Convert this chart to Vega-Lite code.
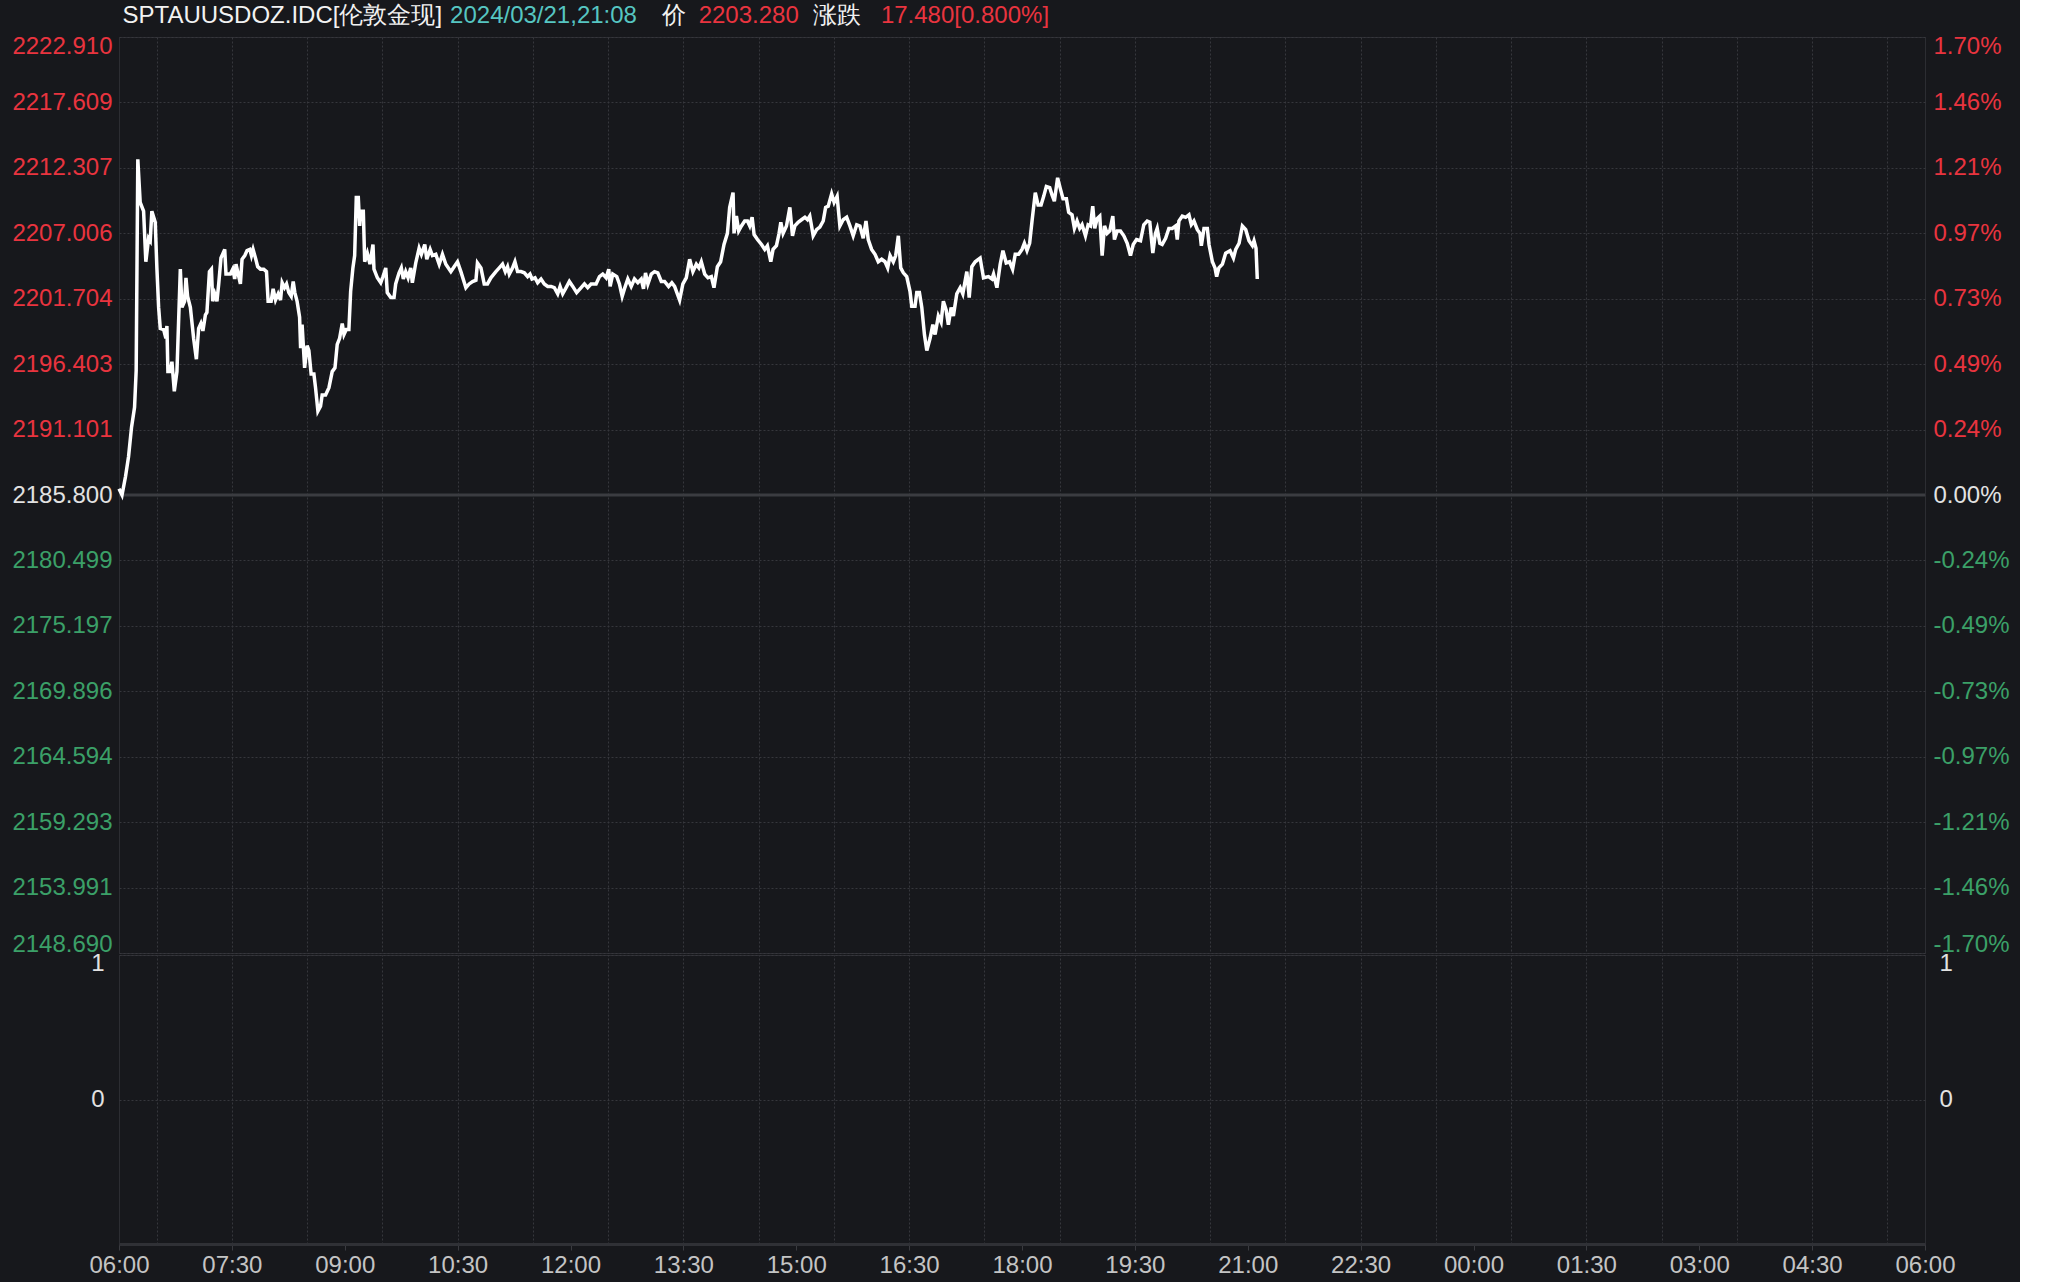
{
  "$schema": "https://vega.github.io/schema/vega-lite/v6.json",
  "background": "#17181c",
  "padding": {"left": 10, "top": 3, "right": 10, "bottom": 4},
  "config": {
    "font": "Liberation Sans",
    "view": {"stroke": "#2c2d32", "strokeWidth": 1},
    "axis": {"labelFont": "Liberation Sans", "labelFontSize": 24, "title": null}
  },
  "spacing": 2,
  "bounds": "flush",
  "datasets": {
    "gold": [
      {"minute": 0.0, "price": 2186.3}, {"minute": 2.4, "price": 2185.8}, {"minute": 5.2, "price": 2187.3}, {"minute": 7.6, "price": 2188.9}, {"minute": 10.0, "price": 2191.3}, {"minute": 12.4, "price": 2192.9}, {"minute": 13.7, "price": 2195.9}, {"minute": 15.0, "price": 2213.0}, {"minute": 16.9, "price": 2209.5}, {"minute": 19.6, "price": 2208.8}, {"minute": 21.4, "price": 2204.7}, {"minute": 23.6, "price": 2206.6}, {"minute": 24.9, "price": 2206.4}, {"minute": 26.2, "price": 2208.8}, {"minute": 28.9, "price": 2207.9}, {"minute": 30.2, "price": 2204.2}, {"minute": 31.6, "price": 2201.0}, {"minute": 32.9, "price": 2199.3}, {"minute": 35.6, "price": 2199.2}, {"minute": 37.4, "price": 2198.5}, {"minute": 38.2, "price": 2199.5}, {"minute": 39.0, "price": 2195.8}, {"minute": 40.9, "price": 2195.8}, {"minute": 42.2, "price": 2196.6}, {"minute": 44.1, "price": 2194.2}, {"minute": 46.2, "price": 2195.8}, {"minute": 48.9, "price": 2204.1}, {"minute": 50.2, "price": 2201.0}, {"minute": 52.3, "price": 2201.5}, {"minute": 53.4, "price": 2203.4}, {"minute": 54.7, "price": 2201.9}, {"minute": 56.9, "price": 2201.0}, {"minute": 59.5, "price": 2198.5}, {"minute": 61.7, "price": 2196.8}, {"minute": 63.5, "price": 2199.3}, {"minute": 65.3, "price": 2199.7}, {"minute": 66.9, "price": 2199.1}, {"minute": 68.9, "price": 2200.4}, {"minute": 70.1, "price": 2200.6}, {"minute": 72.1, "price": 2203.9}, {"minute": 73.7, "price": 2204.1}, {"minute": 74.7, "price": 2201.5}, {"minute": 76.3, "price": 2202.1}, {"minute": 78.1, "price": 2201.5}, {"minute": 79.5, "price": 2202.9}, {"minute": 81.3, "price": 2205.0}, {"minute": 84.3, "price": 2205.7}, {"minute": 85.3, "price": 2203.7}, {"minute": 88.8, "price": 2203.7}, {"minute": 90.7, "price": 2204.1}, {"minute": 92.3, "price": 2203.3}, {"minute": 93.3, "price": 2204.5}, {"minute": 95.5, "price": 2203.5}, {"minute": 96.8, "price": 2202.9}, {"minute": 98.1, "price": 2204.9}, {"minute": 100.3, "price": 2205.2}, {"minute": 102.1, "price": 2205.6}, {"minute": 104.3, "price": 2205.7}, {"minute": 105.6, "price": 2205.2}, {"minute": 106.9, "price": 2205.7}, {"minute": 108.8, "price": 2205.0}, {"minute": 110.6, "price": 2204.3}, {"minute": 112.8, "price": 2204.1}, {"minute": 115.4, "price": 2204.1}, {"minute": 117.6, "price": 2203.9}, {"minute": 118.9, "price": 2201.5}, {"minute": 121.3, "price": 2201.5}, {"minute": 122.9, "price": 2202.5}, {"minute": 124.8, "price": 2201.6}, {"minute": 126.9, "price": 2202.1}, {"minute": 128.8, "price": 2201.6}, {"minute": 130.1, "price": 2203.0}, {"minute": 132.0, "price": 2202.6}, {"minute": 133.6, "price": 2202.9}, {"minute": 135.4, "price": 2202.2}, {"minute": 137.3, "price": 2201.9}, {"minute": 138.9, "price": 2203.1}, {"minute": 140.2, "price": 2202.2}, {"minute": 142.0, "price": 2201.5}, {"minute": 144.0, "price": 2200.2}, {"minute": 144.8, "price": 2197.7}, {"minute": 146.0, "price": 2199.6}, {"minute": 148.0, "price": 2196.1}, {"minute": 150.0, "price": 2197.9}, {"minute": 151.4, "price": 2197.5}, {"minute": 153.2, "price": 2195.6}, {"minute": 155.4, "price": 2195.6}, {"minute": 156.7, "price": 2194.5}, {"minute": 158.6, "price": 2192.6}, {"minute": 160.7, "price": 2193.0}, {"minute": 162.0, "price": 2193.9}, {"minute": 164.7, "price": 2193.9}, {"minute": 167.4, "price": 2194.5}, {"minute": 170.0, "price": 2195.8}, {"minute": 172.2, "price": 2196.1}, {"minute": 174.0, "price": 2198.0}, {"minute": 175.9, "price": 2198.5}, {"minute": 178.0, "price": 2199.7}, {"minute": 179.4, "price": 2198.8}, {"minute": 181.2, "price": 2199.2}, {"minute": 183.3, "price": 2199.2}, {"minute": 184.7, "price": 2202.3}, {"minute": 186.5, "price": 2204.2}, {"minute": 187.9, "price": 2205.2}, {"minute": 189.2, "price": 2209.9}, {"minute": 190.8, "price": 2209.9}, {"minute": 191.9, "price": 2207.6}, {"minute": 192.7, "price": 2208.8}, {"minute": 194.8, "price": 2208.8}, {"minute": 195.9, "price": 2204.7}, {"minute": 198.0, "price": 2205.4}, {"minute": 200.1, "price": 2204.5}, {"minute": 202.5, "price": 2206.1}, {"minute": 203.3, "price": 2204.1}, {"minute": 206.0, "price": 2203.4}, {"minute": 208.7, "price": 2203.0}, {"minute": 210.5, "price": 2203.5}, {"minute": 212.7, "price": 2204.2}, {"minute": 213.9, "price": 2202.2}, {"minute": 216.7, "price": 2201.8}, {"minute": 219.3, "price": 2201.8}, {"minute": 220.6, "price": 2202.9}, {"minute": 223.3, "price": 2203.8}, {"minute": 225.1, "price": 2204.2}, {"minute": 226.7, "price": 2203.3}, {"minute": 228.6, "price": 2203.9}, {"minute": 230.5, "price": 2203.4}, {"minute": 232.6, "price": 2204.2}, {"minute": 233.9, "price": 2203.0}, {"minute": 236.6, "price": 2204.6}, {"minute": 239.3, "price": 2205.8}, {"minute": 241.1, "price": 2205.3}, {"minute": 243.8, "price": 2206.1}, {"minute": 245.4, "price": 2204.9}, {"minute": 248.1, "price": 2205.7}, {"minute": 249.9, "price": 2205.2}, {"minute": 252.6, "price": 2205.3}, {"minute": 255.3, "price": 2204.5}, {"minute": 257.9, "price": 2205.3}, {"minute": 260.6, "price": 2204.5}, {"minute": 264.6, "price": 2203.9}, {"minute": 267.2, "price": 2204.3}, {"minute": 269.9, "price": 2204.7}, {"minute": 272.6, "price": 2203.9}, {"minute": 276.6, "price": 2202.6}, {"minute": 279.2, "price": 2202.9}, {"minute": 281.9, "price": 2203.1}, {"minute": 284.6, "price": 2203.2}, {"minute": 285.8, "price": 2204.6}, {"minute": 288.6, "price": 2204.2}, {"minute": 291.2, "price": 2202.9}, {"minute": 293.8, "price": 2202.9}, {"minute": 296.5, "price": 2203.4}, {"minute": 300.5, "price": 2203.9}, {"minute": 303.2, "price": 2204.2}, {"minute": 305.8, "price": 2204.5}, {"minute": 308.0, "price": 2203.9}, {"minute": 309.8, "price": 2204.3}, {"minute": 311.2, "price": 2203.7}, {"minute": 313.8, "price": 2204.2}, {"minute": 315.7, "price": 2204.7}, {"minute": 317.8, "price": 2203.9}, {"minute": 320.5, "price": 2203.9}, {"minute": 323.2, "price": 2203.8}, {"minute": 325.8, "price": 2203.5}, {"minute": 327.7, "price": 2203.7}, {"minute": 329.3, "price": 2203.3}, {"minute": 331.7, "price": 2203.4}, {"minute": 333.8, "price": 2203.0}, {"minute": 336.5, "price": 2203.3}, {"minute": 339.1, "price": 2202.9}, {"minute": 341.8, "price": 2202.7}, {"minute": 344.5, "price": 2202.7}, {"minute": 347.1, "price": 2202.6}, {"minute": 349.8, "price": 2202.1}, {"minute": 351.7, "price": 2202.7}, {"minute": 353.8, "price": 2202.1}, {"minute": 356.5, "price": 2202.6}, {"minute": 359.1, "price": 2203.1}, {"minute": 361.8, "price": 2202.7}, {"minute": 364.9, "price": 2202.2}, {"minute": 368.5, "price": 2202.6}, {"minute": 371.1, "price": 2202.9}, {"minute": 373.7, "price": 2202.6}, {"minute": 376.4, "price": 2202.9}, {"minute": 380.4, "price": 2202.9}, {"minute": 383.1, "price": 2203.5}, {"minute": 385.7, "price": 2203.7}, {"minute": 388.4, "price": 2203.4}, {"minute": 390.5, "price": 2204.1}, {"minute": 391.6, "price": 2202.7}, {"minute": 393.7, "price": 2203.7}, {"minute": 396.9, "price": 2203.5}, {"minute": 399.0, "price": 2202.9}, {"minute": 401.2, "price": 2201.9}, {"minute": 403.0, "price": 2202.5}, {"minute": 405.7, "price": 2203.3}, {"minute": 408.4, "price": 2202.7}, {"minute": 411.0, "price": 2203.3}, {"minute": 413.7, "price": 2203.0}, {"minute": 416.4, "price": 2203.3}, {"minute": 418.2, "price": 2202.5}, {"minute": 419.8, "price": 2203.8}, {"minute": 421.7, "price": 2202.9}, {"minute": 424.4, "price": 2203.7}, {"minute": 427.0, "price": 2203.9}, {"minute": 429.6, "price": 2203.8}, {"minute": 432.4, "price": 2203.1}, {"minute": 435.0, "price": 2203.1}, {"minute": 438.2, "price": 2202.7}, {"minute": 440.8, "price": 2203.0}, {"minute": 443.0, "price": 2202.7}, {"minute": 447.0, "price": 2201.6}, {"minute": 449.6, "price": 2202.9}, {"minute": 452.3, "price": 2203.4}, {"minute": 455.0, "price": 2204.9}, {"minute": 457.6, "price": 2203.9}, {"minute": 460.3, "price": 2204.5}, {"minute": 462.4, "price": 2204.2}, {"minute": 464.3, "price": 2204.7}, {"minute": 467.0, "price": 2203.7}, {"minute": 469.6, "price": 2203.4}, {"minute": 472.3, "price": 2203.5}, {"minute": 474.4, "price": 2202.6}, {"minute": 477.1, "price": 2204.3}, {"minute": 479.7, "price": 2204.7}, {"minute": 482.4, "price": 2206.1}, {"minute": 485.1, "price": 2207.0}, {"minute": 486.9, "price": 2209.1}, {"minute": 489.6, "price": 2210.3}, {"minute": 490.4, "price": 2207.0}, {"minute": 492.3, "price": 2208.4}, {"minute": 494.1, "price": 2207.2}, {"minute": 496.3, "price": 2207.6}, {"minute": 498.9, "price": 2208.0}, {"minute": 501.1, "price": 2208.0}, {"minute": 502.9, "price": 2207.6}, {"minute": 504.8, "price": 2208.3}, {"minute": 506.4, "price": 2206.9}, {"minute": 509.1, "price": 2206.5}, {"minute": 512.3, "price": 2206.1}, {"minute": 514.9, "price": 2205.7}, {"minute": 517.0, "price": 2206.0}, {"minute": 519.7, "price": 2204.7}, {"minute": 521.5, "price": 2205.7}, {"minute": 524.2, "price": 2206.0}, {"minute": 526.3, "price": 2207.0}, {"minute": 527.7, "price": 2207.9}, {"minute": 529.5, "price": 2207.0}, {"minute": 532.2, "price": 2207.6}, {"minute": 534.9, "price": 2209.1}, {"minute": 537.0, "price": 2206.8}, {"minute": 538.9, "price": 2207.6}, {"minute": 541.5, "price": 2207.9}, {"minute": 544.2, "price": 2208.1}, {"minute": 546.9, "price": 2208.3}, {"minute": 549.0, "price": 2208.1}, {"minute": 550.8, "price": 2208.4}, {"minute": 552.2, "price": 2207.6}, {"minute": 553.5, "price": 2206.8}, {"minute": 556.2, "price": 2207.3}, {"minute": 558.8, "price": 2207.5}, {"minute": 561.5, "price": 2208.0}, {"minute": 563.4, "price": 2209.1}, {"minute": 565.5, "price": 2209.2}, {"minute": 568.2, "price": 2210.2}, {"minute": 570.2, "price": 2209.5}, {"minute": 572.6, "price": 2210.0}, {"minute": 574.8, "price": 2207.6}, {"minute": 577.4, "price": 2208.1}, {"minute": 580.2, "price": 2208.3}, {"minute": 582.8, "price": 2207.6}, {"minute": 585.4, "price": 2206.8}, {"minute": 588.2, "price": 2207.7}, {"minute": 590.8, "price": 2207.6}, {"minute": 593.4, "price": 2206.6}, {"minute": 595.6, "price": 2208.0}, {"minute": 597.4, "price": 2206.5}, {"minute": 600.1, "price": 2205.7}, {"minute": 602.8, "price": 2205.3}, {"minute": 605.4, "price": 2204.7}, {"minute": 608.1, "price": 2204.9}, {"minute": 610.8, "price": 2204.7}, {"minute": 612.9, "price": 2204.2}, {"minute": 614.8, "price": 2205.2}, {"minute": 617.4, "price": 2204.7}, {"minute": 619.3, "price": 2205.2}, {"minute": 621.4, "price": 2206.8}, {"minute": 623.3, "price": 2204.2}, {"minute": 625.4, "price": 2203.8}, {"minute": 628.1, "price": 2203.5}, {"minute": 630.7, "price": 2202.3}, {"minute": 632.1, "price": 2201.1}, {"minute": 634.7, "price": 2201.1}, {"minute": 636.1, "price": 2202.2}, {"minute": 638.2, "price": 2202.2}, {"minute": 640.1, "price": 2201.0}, {"minute": 642.2, "price": 2198.8}, {"minute": 644.1, "price": 2197.5}, {"minute": 646.7, "price": 2198.5}, {"minute": 648.9, "price": 2199.6}, {"minute": 650.7, "price": 2198.8}, {"minute": 653.3, "price": 2200.3}, {"minute": 655.5, "price": 2199.8}, {"minute": 657.3, "price": 2201.5}, {"minute": 659.5, "price": 2200.8}, {"minute": 661.3, "price": 2199.6}, {"minute": 663.5, "price": 2201.0}, {"minute": 665.3, "price": 2200.3}, {"minute": 668.0, "price": 2202.1}, {"minute": 670.7, "price": 2202.6}, {"minute": 672.8, "price": 2202.1}, {"minute": 676.0, "price": 2203.9}, {"minute": 677.9, "price": 2201.8}, {"minute": 680.0, "price": 2204.3}, {"minute": 682.7, "price": 2204.7}, {"minute": 686.6, "price": 2205.0}, {"minute": 689.3, "price": 2203.4}, {"minute": 693.3, "price": 2203.5}, {"minute": 696.0, "price": 2203.3}, {"minute": 697.3, "price": 2203.7}, {"minute": 700.0, "price": 2202.6}, {"minute": 702.6, "price": 2204.5}, {"minute": 704.8, "price": 2205.6}, {"minute": 707.4, "price": 2204.6}, {"minute": 710.1, "price": 2204.7}, {"minute": 712.5, "price": 2204.1}, {"minute": 714.6, "price": 2205.3}, {"minute": 717.3, "price": 2205.3}, {"minute": 720.0, "price": 2205.7}, {"minute": 721.9, "price": 2206.2}, {"minute": 724.0, "price": 2205.6}, {"minute": 726.1, "price": 2206.2}, {"minute": 728.0, "price": 2208.0}, {"minute": 730.6, "price": 2210.3}, {"minute": 732.8, "price": 2209.3}, {"minute": 735.2, "price": 2209.3}, {"minute": 737.3, "price": 2210.0}, {"minute": 739.4, "price": 2210.8}, {"minute": 742.1, "price": 2210.7}, {"minute": 744.0, "price": 2210.1}, {"minute": 745.8, "price": 2209.6}, {"minute": 748.4, "price": 2211.5}, {"minute": 750.6, "price": 2210.6}, {"minute": 752.7, "price": 2209.8}, {"minute": 755.4, "price": 2209.8}, {"minute": 757.2, "price": 2208.7}, {"minute": 759.9, "price": 2208.5}, {"minute": 761.8, "price": 2207.4}, {"minute": 763.9, "price": 2208.0}, {"minute": 766.0, "price": 2207.4}, {"minute": 767.9, "price": 2207.7}, {"minute": 770.6, "price": 2206.8}, {"minute": 772.7, "price": 2207.7}, {"minute": 774.6, "price": 2207.6}, {"minute": 776.4, "price": 2209.2}, {"minute": 778.0, "price": 2207.4}, {"minute": 779.9, "price": 2208.2}, {"minute": 782.0, "price": 2208.4}, {"minute": 783.9, "price": 2205.2}, {"minute": 785.8, "price": 2207.6}, {"minute": 787.9, "price": 2207.0}, {"minute": 790.0, "price": 2207.2}, {"minute": 792.4, "price": 2208.4}, {"minute": 793.7, "price": 2206.5}, {"minute": 795.9, "price": 2207.2}, {"minute": 798.5, "price": 2207.2}, {"minute": 801.2, "price": 2206.8}, {"minute": 803.9, "price": 2206.2}, {"minute": 806.5, "price": 2205.2}, {"minute": 808.7, "price": 2206.1}, {"minute": 811.3, "price": 2206.5}, {"minute": 814.5, "price": 2206.4}, {"minute": 817.1, "price": 2207.7}, {"minute": 819.8, "price": 2208.0}, {"minute": 821.9, "price": 2207.9}, {"minute": 824.3, "price": 2205.4}, {"minute": 826.4, "price": 2207.0}, {"minute": 827.8, "price": 2207.4}, {"minute": 829.9, "price": 2206.2}, {"minute": 831.8, "price": 2206.1}, {"minute": 834.5, "price": 2206.6}, {"minute": 837.1, "price": 2207.4}, {"minute": 839.8, "price": 2207.4}, {"minute": 842.5, "price": 2207.6}, {"minute": 843.8, "price": 2206.5}, {"minute": 845.1, "price": 2208.0}, {"minute": 847.8, "price": 2208.4}, {"minute": 850.5, "price": 2208.3}, {"minute": 853.1, "price": 2208.5}, {"minute": 855.0, "price": 2207.7}, {"minute": 857.1, "price": 2208.0}, {"minute": 859.8, "price": 2207.3}, {"minute": 861.9, "price": 2207.0}, {"minute": 863.0, "price": 2206.0}, {"minute": 865.1, "price": 2207.4}, {"minute": 867.8, "price": 2207.4}, {"minute": 869.1, "price": 2206.1}, {"minute": 871.8, "price": 2204.7}, {"minute": 873.9, "price": 2204.2}, {"minute": 875.2, "price": 2203.5}, {"minute": 877.0, "price": 2204.2}, {"minute": 879.8, "price": 2204.5}, {"minute": 882.4, "price": 2205.4}, {"minute": 885.9, "price": 2205.6}, {"minute": 888.6, "price": 2205.0}, {"minute": 890.4, "price": 2205.7}, {"minute": 893.1, "price": 2206.2}, {"minute": 895.7, "price": 2207.6}, {"minute": 898.4, "price": 2207.3}, {"minute": 901.0, "price": 2206.4}, {"minute": 903.7, "price": 2206.0}, {"minute": 905.0, "price": 2206.4}, {"minute": 906.6, "price": 2205.8}, {"minute": 907.6, "price": 2203.3}
    ]
  },
  "vconcat": [
    {
      "width": 1806,
      "height": 916,
      "layer": [
        {
          "data": {"values": [{}]},
          "mark": {"type": "rule", "color": "#3b3c41", "strokeWidth": 3},
          "encoding": {
            "y": {
              "datum": 2185.8,
              "type": "quantitative",
              "scale": {"domain": [2148.69, 2222.91], "nice": false, "zero": false},
              "axis": {
                "orient": "right",
                "values": [2148.69, 2153.991, 2159.293, 2164.594, 2169.896, 2175.197, 2180.499, 2185.8, 2191.101, 2196.403, 2201.704, 2207.006, 2212.307, 2217.609, 2222.91],
                "labelExpr": "replace(format((datum.value - 2185.8) / 2185.8 * 100, '.2f'), '\u2212', '-') + '%'",
                "labelColor": {"condition": [{"test": "datum.value > 2185.81", "value": "#e9343f"}, {"test": "datum.value < 2185.79", "value": "#3ba068"}], "value": "#e2e2e2"},
                "labelFlush": true,
                "labelFlushOffset": 3,
                "labelPadding": 8,
                "labelFontSize": 24,
                "ticks": false,
                "domain": false,
                "grid": false,
                "title": null
              }
            }
          }
        },
        {
          "layer": [
            {
              "data": {"name": "gold"},
              "mark": {"type": "line", "color": "#ffffff", "strokeWidth": 3.5},
              "encoding": {
                "x": {
                  "field": "minute",
                  "type": "quantitative",
                  "scale": {"domain": [0, 1440], "nice": false, "zero": false},
                  "axis": {
                    "orient": "bottom",
                    "values": [30, 90, 150, 210, 270, 330, 390, 450, 510, 570, 630, 690, 750, 810, 870, 930, 990, 1050, 1110, 1170, 1230, 1290, 1350, 1410],
                    "labels": false,
                    "ticks": false,
                    "domain": false,
                    "grid": true,
                    "gridDash": [2, 2],
                    "gridColor": "#36373c",
                    "gridWidth": 1,
                    "minExtent": 0,
                    "maxExtent": 0,
                    "title": null
                  }
                },
                "y": {
                  "field": "price",
                  "type": "quantitative",
                  "scale": {"domain": [2148.69, 2222.91], "nice": false, "zero": false},
                  "axis": {
                    "orient": "left",
                    "values": [2148.69, 2153.991, 2159.293, 2164.594, 2169.896, 2175.197, 2180.499, 2185.8, 2191.101, 2196.403, 2201.704, 2207.006, 2212.307, 2217.609, 2222.91],
                    "format": ".3f",
                    "labelColor": {"condition": [{"test": "datum.value > 2185.81", "value": "#e9343f"}, {"test": "datum.value < 2185.79", "value": "#3ba068"}], "value": "#e2e2e2"},
                    "labelFlush": true,
                    "labelFlushOffset": 3,
                    "labelPadding": 7,
                    "labelFontSize": 24,
                    "ticks": false,
                    "domain": false,
                    "grid": true,
                    "gridDash": [2, 2],
                    "gridColor": "#36373c",
                    "gridWidth": 1,
                    "minExtent": 108,
                    "maxExtent": 108,
                    "title": null
                  }
                }
              }
            },
            {
              "data": {"values": [{}]},
              "mark": {"type": "text", "text": "SPTAUUSDOZ.IDC[伦敦金现]", "color": "#f2f2f2", "align": "left", "baseline": "top", "fontSize": 24, "font": "Liberation Sans"},
              "encoding": {"x": {"datum": 2.8, "type": "quantitative"}, "y": {"datum": 2225.59, "type": "quantitative"}}
            },
            {
              "data": {"values": [{}]},
              "mark": {"type": "text", "text": "2024/03/21,21:08", "color": "#56c6c2", "align": "left", "baseline": "top", "fontSize": 24, "font": "Liberation Sans"},
              "encoding": {"x": {"datum": 264.0, "type": "quantitative"}, "y": {"datum": 2225.59, "type": "quantitative"}}
            },
            {
              "data": {"values": [{}]},
              "mark": {"type": "text", "text": "价", "color": "#f2f2f2", "align": "left", "baseline": "top", "fontSize": 24, "font": "Liberation Sans"},
              "encoding": {"x": {"datum": 432.6, "type": "quantitative"}, "y": {"datum": 2225.59, "type": "quantitative"}}
            },
            {
              "data": {"values": [{}]},
              "mark": {"type": "text", "text": "2203.280", "color": "#e9343f", "align": "left", "baseline": "top", "fontSize": 24, "font": "Liberation Sans"},
              "encoding": {"x": {"datum": 462.2, "type": "quantitative"}, "y": {"datum": 2225.59, "type": "quantitative"}}
            },
            {
              "data": {"values": [{}]},
              "mark": {"type": "text", "text": "涨跌", "color": "#f2f2f2", "align": "left", "baseline": "top", "fontSize": 24, "font": "Liberation Sans"},
              "encoding": {"x": {"datum": 553.2, "type": "quantitative"}, "y": {"datum": 2225.59, "type": "quantitative"}}
            },
            {
              "data": {"values": [{}]},
              "mark": {"type": "text", "text": "17.480[0.800%]", "color": "#e9343f", "align": "left", "baseline": "top", "fontSize": 24, "font": "Liberation Sans"},
              "encoding": {"x": {"datum": 607.5, "type": "quantitative"}, "y": {"datum": 2225.59, "type": "quantitative"}}
            }
          ]
        }
      ],
      "resolve": {"scale": {"y": "independent"}}
    },
    {
      "width": 1806,
      "height": 289,
      "layer": [
        {
          "data": {"values": [{}]},
          "mark": {"type": "point", "opacity": 0},
          "encoding": {
            "y": {
              "datum": 0,
              "type": "quantitative",
              "scale": {"domain": [-1, 1], "nice": false, "zero": false},
              "axis": {
                "orient": "left",
                "values": [0, 1],
                "format": "d",
                "labelColor": "#e2e2e2",
                "labelFlush": true,
                "labelFlushOffset": 4,
                "labelPadding": 15,
                "labelFontSize": 24,
                "ticks": false,
                "domain": false,
                "grid": true,
                "gridDash": [2, 2],
                "gridColor": "#36373c",
                "minExtent": 108,
                "maxExtent": 108,
                "title": null
              }
            },
            "x": {
              "datum": 0,
              "type": "quantitative",
              "scale": {"domain": [0, 1440], "nice": false, "zero": false},
              "axis": {
                "orient": "top",
                "values": [30, 90, 150, 210, 270, 330, 390, 450, 510, 570, 630, 690, 750, 810, 870, 930, 990, 1050, 1110, 1170, 1230, 1290, 1350, 1410],
                "labels": false,
                "ticks": false,
                "domain": false,
                "grid": true,
                "gridDash": [2, 2],
                "gridColor": "#36373c",
                "minExtent": 0,
                "maxExtent": 0,
                "title": null
              }
            }
          }
        },
        {
          "data": {"values": [{}]},
          "mark": {"type": "point", "opacity": 0},
          "encoding": {
            "y": {
              "datum": 0,
              "type": "quantitative",
              "scale": {"domain": [-1, 1], "nice": false, "zero": false},
              "axis": {
                "orient": "right",
                "values": [0, 1],
                "format": "d",
                "labelColor": "#e2e2e2",
                "labelFlush": true,
                "labelFlushOffset": 4,
                "labelPadding": 14,
                "labelFontSize": 24,
                "ticks": false,
                "domain": false,
                "grid": false,
                "title": null
              }
            },
            "x": {
              "datum": 0,
              "type": "quantitative",
              "scale": {"domain": [0, 1440], "nice": false, "zero": false},
              "axis": {
                "orient": "bottom",
                "values": [0, 90, 180, 270, 360, 450, 540, 630, 720, 810, 900, 990, 1080, 1170, 1260, 1350, 1440],
                "labelExpr": "timeFormat(datetime(2024, 2, 21, 6, datum.value), '%H:%M')",
                "labelColor": "#c4c4c4",
                "labelFontSize": 24,
                "labelFlush": false,
                "labelOverlap": false,
                "labelPadding": 3,
                "ticks": true,
                "tickSize": 6,
                "tickColor": "#3a3b40",
                "domain": true,
                "domainColor": "#303136",
                "domainWidth": 3,
                "grid": false,
                "title": null
              }
            }
          }
        }
      ],
      "resolve": {"scale": {"x": "independent", "y": "independent"}}
    }
  ]
}
